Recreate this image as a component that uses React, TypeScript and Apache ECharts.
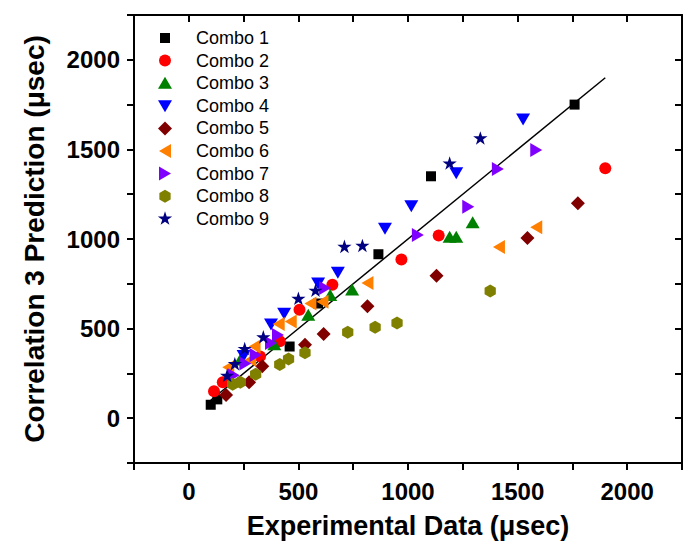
import React, { useEffect, useRef } from "react";
import * as echarts from "echarts";

const seriesNames = ["Combo 1", "Combo 2", "Combo 3", "Combo 4", "Combo 5", "Combo 6", "Combo 7", "Combo 8", "Combo 9"];

const combo1 = [[100, 75], [130, 105], [460, 400], [590, 640], [865, 915], [1105, 1350], [1760, 1750]];
const combo2 = [[115, 150], [155, 200], [325, 345], [415, 430], [505, 605], [655, 745], [970, 885], [1140, 1020], [1900, 1395]];
const combo3 = [[235, 325], [390, 410], [545, 575], [645, 685], [745, 715], [1190, 1010], [1220, 1010], [1295, 1090]];
const combo4 = [[250, 350], [375, 525], [435, 585], [590, 755], [680, 815], [895, 1060], [1015, 1185], [1220, 1370], [1525, 1670]];
const combo5 = [[170, 130], [275, 200], [335, 290], [530, 410], [615, 470], [815, 625], [1130, 795], [1545, 1005], [1775, 1200]];
const combo6 = [[180, 285], [280, 325], [300, 400], [410, 525], [465, 540], [555, 640], [610, 650], [815, 755], [1415, 955], [1585, 1065]];
const combo7 = [[205, 240], [258, 305], [305, 352], [375, 420], [407, 464], [622, 726], [1045, 1022], [1275, 1180], [1410, 1390], [1585, 1497]];
const combo8 = [[200, 190], [235, 200], [305, 245], [415, 300], [455, 330], [530, 365], [725, 480], [850, 508], [950, 531], [1375, 710]];
const combo9 = [[175, 235], [210, 300], [255, 385], [340, 450], [500, 665], [578, 710], [710, 955], [792, 960], [1190, 1420], [1330, 1560]];

const allData = [combo1, combo2, combo3, combo4, combo5, combo6, combo7, combo8, combo9];
const colors = ["#000000", "#ff0000", "#008000", "#0000ff", "#800000", "#ff8000", "#8000ff", "#808000", "#000080"];

const fitLine = [[100, 100], [1900, 1900]];

const xTickLabels = [0, 500, 1000, 1500, 2000];
const yTickLabels = [0, 500, 1000, 1500, 2000];

const PAD = "M-8,-8 M8,8 ";
const shapes = [
  "path://" + PAD + "M-5,-5 L5,-5 L5,5 L-5,5 Z",
  "path://" + PAD + "M-6,0 A6,6 0 1,0 6,0 A6,6 0 1,0 -6,0 Z",
  "path://" + PAD + "M0,-6.5 L7,5.5 L-7,5.5 Z",
  "path://" + PAD + "M-7,-5.5 L7,-5.5 L0,6.5 Z",
  "path://" + PAD + "M0,-7 L7,0 L0,7 L-7,0 Z",
  "path://" + PAD + "M-6,0 L6,-7 L6,7 Z",
  "path://" + PAD + "M6,0 L-6,-7 L-6,7 Z",
  "path://" + PAD + "M0,-6.5 L5.63,-3.25 L5.63,3.25 L0,6.5 L-5.63,3.25 L-5.63,-3.25 Z",
  "path://" + PAD + "M0,-7.5 L1.69,-2.32 L7.13,-2.32 L2.73,0.89 L4.41,6.07 L0,2.87 L-4.41,6.07 L-2.73,0.89 L-7.13,-2.32 L-1.69,-2.32 Z",
];

const FONT = "Liberation Sans, Arial, sans-serif";

export default function App() {
  const ref = useRef<HTMLDivElement>(null);
  useEffect(() => {
    if (!ref.current) return;
    const chart = echarts.init(ref.current, null, { renderer: "svg" });
    const labelFmt = (list: number[]) => (v: number) => (list.indexOf(v) >= 0 ? String(v) : "");
    const axisCommon = {
      type: "value" as const,
      min: -250,
      max: 2250,
      interval: 250,
      splitLine: { show: false },
      axisLine: { show: true, onZero: false, lineStyle: { color: "#000", width: 2 } },
      axisTick: { show: true, inside: false, length: 7, lineStyle: { color: "#000", width: 2 } },
    };
    chart.setOption({
      animation: false,
      backgroundColor: "#ffffff",
      grid: { left: 134, top: 15, width: 559, height: 448 },
      legend: {
        data: seriesNames,
        orient: "vertical",
        left: 152,
        top: 24,
        itemWidth: 16,
        itemHeight: 16,
        itemGap: 4.6,
        textStyle: { fontFamily: FONT, fontSize: 18, color: "#000", padding: [0, 0, 0, 18] },
      },
      xAxis: [
        {
          ...axisCommon,
          position: "bottom",
          name: "Experimental Data (μsec)",
          nameLocation: "middle",
          nameGap: 49,
          nameTextStyle: { fontFamily: FONT, fontSize: 27, fontWeight: "bold", color: "#000" },
          axisLabel: { formatter: labelFmt(xTickLabels), margin: 16, fontFamily: FONT, fontSize: 24, fontWeight: "bold", color: "#000" },
        },
        {
          ...axisCommon,
          position: "top",
          axisTick: { show: true, inside: true, length: 7, lineStyle: { color: "#000", width: 2 } },
          axisLabel: { show: false },
        },
      ],
      yAxis: [
        {
          ...axisCommon,
          position: "left",
          name: "Correlation 3 Prediction (μsec)",
          nameLocation: "middle",
          nameGap: 86,
          nameTextStyle: { fontFamily: FONT, fontSize: 28, fontWeight: "bold", color: "#000" },
          axisLabel: { formatter: labelFmt(yTickLabels), margin: 14, fontFamily: FONT, fontSize: 24, fontWeight: "bold", color: "#000" },
        },
        {
          ...axisCommon,
          position: "right",
          axisTick: { show: true, inside: true, length: 7, lineStyle: { color: "#000", width: 2 } },
          axisLabel: { show: false },
        },
      ],
      series: [
        {
          name: "fit",
          type: "line",
          data: fitLine,
          showSymbol: false,
          symbol: "none",
          lineStyle: { color: "#000", width: 1.5 },
          z: 1,
        },
        ...allData.map((d, i) => ({
          name: seriesNames[i],
          type: "scatter",
          data: d,
          symbol: shapes[i],
          symbolSize: 16,
          itemStyle: { color: colors[i], opacity: 1 },
          z: 2 + i,
        })),
      ],
    });
    return () => chart.dispose();
  }, []);
  return <div ref={ref} style={{ position: "absolute", left: 0, top: 0, width: 685, height: 548 }} />;
}
